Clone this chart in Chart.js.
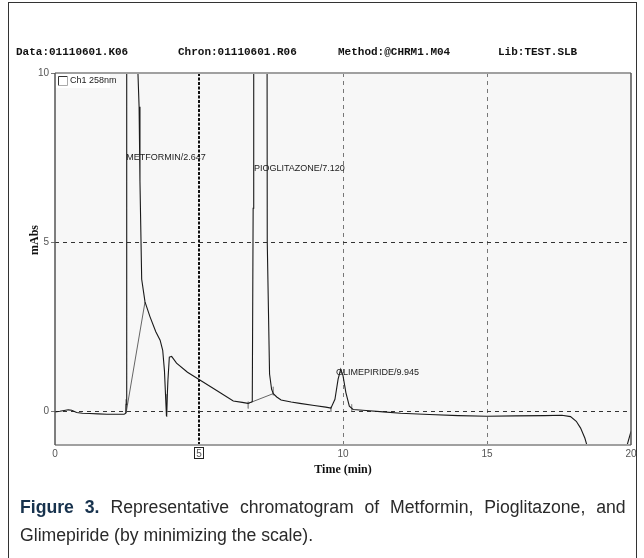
<!DOCTYPE html>
<html><head><meta charset="utf-8">
<script src="https://cdn.jsdelivr.net/npm/chart.js@4/dist/chart.umd.min.js"></script>
<style>
html,body{margin:0;padding:0;background:#fff;}
#wrap{position:relative;width:644px;height:558px;overflow:hidden;background:#fff;}
#frame{position:absolute;left:8px;top:2px;width:629px;height:600px;border:1.5px solid #333;box-sizing:border-box;}
#c{position:absolute;left:0;top:0;}
.hdr{position:absolute;top:46px;font:bold 11px "Liberation Mono",monospace;color:#111;white-space:pre;}
#cap{position:absolute;left:20px;top:493px;width:618px;transform:scaleX(0.98);transform-origin:0 0;font:18px "Liberation Sans",sans-serif;line-height:28px;color:#2a2a2a;}
#cap .l1{text-align:justify;text-align-last:justify;white-space:nowrap;}
#cap .l2{text-align:left;white-space:nowrap;}
#cap b{color:#17324d;}
</style></head>
<body>
<div id="wrap">
<div id="frame"></div>
<canvas id="c" width="644" height="500" style="width:644px;height:500px"></canvas>
<div class="hdr" style="left:16px">Data:01110601.K06</div>
<div class="hdr" style="left:178px">Chron:01110601.R06</div>
<div class="hdr" style="left:338px">Method:@CHRM1.M04</div>
<div class="hdr" style="left:498px">Lib:TEST.SLB</div>
<div id="cap"><div class="l1"><b>Figure 3.</b> Representative chromatogram of Metformin, Pioglitazone, and</div><div class="l2">Glimepiride (by minimizing the scale).</div></div>
</div>
<script>
// ---- data ----
const timeMin = [0, 0.17, 0.46, 0.58, 0.75, 0.95, 1.2, 1.5, 1.8, 2.1, 2.4, 2.46,
  2.47, 2.49, 2.647, 2.84, 2.88, 2.92, 2.95, 3.01, 3.125, 3.3, 3.5, 3.65, 3.74, 3.8, 3.87, 3.92, 3.97, 4.05, 4.22, 4.6, 5.03, 5.6, 6.19, 6.5, 6.7, 6.85,
  6.88, 6.9, 7.12, 7.33, 7.37, 7.45, 7.52, 7.58, 7.7, 7.85, 8.2, 8.5, 9.0, 9.4, 9.58,
  9.72, 9.83, 9.92, 10.0, 10.1, 10.22, 10.35, 10.8, 11.4, 12, 13, 14, 15, 16, 17, 17.6,
  17.9, 18.1, 18.25, 18.4, 18.5, 18.6, 19.5, 19.85, 20];
const absorb = [-0.02, 0, 0.04, 0.03, -0.04, -0.06, -0.07, -0.08, -0.09, -0.09, -0.09, -0.06,
  0.2, 40, 80, 40, 10, 9, 6.8, 3.9, 3.23, 2.79, 2.35, 2.1, 1.8, 1.2, -0.15, 0.9, 1.6, 1.62, 1.42, 1.15, 0.92, 0.62, 0.3, 0.26, 0.23, 0.28,
  6, 40, 80, 40, 5, 1.1, 0.65, 0.52, 0.42, 0.33, 0.27, 0.23, 0.17, 0.12, 0.09,
  0.35, 0.95, 1.24, 1.05, 0.55, 0.15, 0.05, 0.02, -0.02, -0.06, -0.1, -0.13, -0.15, -0.14, -0.13, -0.12,
  -0.16, -0.3, -0.5, -0.8, -1.1, -1.6, -1.6, -1.05, -0.6];
// integration baselines drawn under peaks (start/end pairs)
const baseT = [2.47, 3.125, null, 6.71, 7.58];
const baseV = [-0.05, 3.23, null, 0.23, 0.52];
// integration event markers
const markT = [2.47, 3.88, 6.71, 7.58, 9.58, 10.3];
const markTop = [0.35, 0.5, 0.28, 0.72, 0.13, 0.2];
const markBot = [-0.05, -0.17, 0.08, 0.47, -0.02, 0.0];
// peak labels
const peakNames = ['METFORMIN/2.647', 'PIOGLITAZONE/7.120', 'GLIMEPIRIDE/9.945'];
const peakLabT = [2.47, 6.91, 9.76];
const peakLabV = [7.5, 7.19, 1.15];
// axes
const xTicks = [0, 5, 10, 15, 20];
const yTicks = [0, 5, 10];
const cursorT = 5;

const trace = timeMin.map((t, i) => ({x: t, y: absorb[i]}));
const basePts = baseT.map((t, i) => t === null ? {x: null, y: null} : {x: t, y: baseV[i]});
const markPts = [];
markT.forEach((t, i) => { markPts.push({x: t, y: markTop[i]}, {x: t, y: markBot[i]}, {x: null, y: null}); });

const overlay = {
  id: 'overlay',
  beforeDraw(chart) {
    const {ctx, chartArea: a} = chart;
    ctx.save();
    ctx.fillStyle = '#f7f7f7';
    ctx.fillRect(a.left, a.top, a.right - a.left, a.bottom - a.top);
    ctx.restore();
  },
  afterDraw(chart) {
    const {ctx, chartArea: a, scales: {x, y}} = chart;
    ctx.save();
    // frame
    ctx.lineWidth = 2;
    ctx.strokeStyle = '#a0a0a0';
    ctx.beginPath(); ctx.moveTo(a.left, a.top); ctx.lineTo(a.right, a.top); ctx.stroke();
    ctx.beginPath(); ctx.moveTo(a.left, a.bottom); ctx.lineTo(a.right, a.bottom); ctx.stroke();
    ctx.strokeStyle = '#555';
    ctx.lineWidth = 1.5;
    ctx.beginPath(); ctx.moveTo(a.left, a.top); ctx.lineTo(a.left, a.bottom); ctx.stroke();
    ctx.beginPath(); ctx.moveTo(a.right, a.top); ctx.lineTo(a.right, a.bottom); ctx.stroke();
    // legend box
    ctx.fillStyle = '#fff';
    ctx.fillRect(a.left + 1, a.top + 1, 54, 14);
    ctx.strokeStyle = '#333'; ctx.lineWidth = 1;
    ctx.beginPath(); ctx.moveTo(a.left + 3.5, a.top + 12.5); ctx.lineTo(a.left + 3.5, a.top + 3.5); ctx.lineTo(a.left + 12.5, a.top + 3.5); ctx.stroke();
    ctx.strokeStyle = '#aaa';
    ctx.beginPath(); ctx.moveTo(a.left + 12.5, a.top + 3.5); ctx.lineTo(a.left + 12.5, a.top + 12.5); ctx.lineTo(a.left + 3.5, a.top + 12.5); ctx.stroke();
    ctx.fillStyle = '#222';
    ctx.font = '9px "Liberation Sans", sans-serif';
    ctx.textBaseline = 'middle'; ctx.textAlign = 'left';
    ctx.fillText('Ch1 258nm', a.left + 15, a.top + 8);
    // peak labels
    peakNames.forEach((n, i) => {
      ctx.fillText(n, x.getPixelForValue(peakLabT[i]), y.getPixelForValue(peakLabV[i]));
    });
    // cursor box on x axis
    const cx = x.getPixelForValue(cursorT);
    ctx.strokeStyle = '#222'; ctx.lineWidth = 1;
    ctx.strokeRect(Math.round(cx) - 4.5, a.bottom + 2.5, 9, 11);
    // axis titles
    ctx.fillStyle = '#111';
    ctx.font = 'bold 12px "Liberation Serif", serif';
    ctx.textAlign = 'center';
    ctx.fillText('Time (min)', (a.left + a.right) / 2, 470);
    ctx.translate(35, 240);
    ctx.rotate(-Math.PI / 2);
    ctx.fillText('mAbs', 0, 0);
    ctx.restore();
  }
};

new Chart(document.getElementById('c'), {
  type: 'line',
  data: {
    datasets: [
      {data: trace, borderColor: '#1a1a1a', borderWidth: 1.1, pointRadius: 0, tension: 0, spanGaps: false},
      {data: basePts, borderColor: '#666', borderWidth: 1, pointRadius: 0, tension: 0, spanGaps: false},
      {data: markPts, borderColor: '#999', borderWidth: 1, pointRadius: 0, tension: 0, spanGaps: false}
    ]
  },
  options: {
    responsive: false,
    animation: false,
    layout: {padding: {left: 0, right: 13, top: 73, bottom: 0}},
    plugins: {legend: {display: false}, tooltip: {enabled: false}},
    scales: {
      x: {
        type: 'linear', min: 0, max: 20,
        afterBuildTicks: s => { s.ticks = xTicks.map(v => ({value: v})); },
        afterFit: s => { s.height = 55; },
        ticks: {font: {family: '"Liberation Sans", sans-serif', size: 10}, color: '#555', padding: 3, maxRotation: 0},
        grid: {
          drawTicks: false,
          color: c => (c.tick && (c.tick.value === 0 || c.tick.value === 20)) ? 'rgba(0,0,0,0)' : (c.tick && c.tick.value === cursorT ? '#111' : '#777'),
          lineWidth: c => (c.tick && c.tick.value === cursorT) ? 2 : 1
        },
        border: {display: false, dash: c => (c.tick && c.tick.value === cursorT) ? [3, 1.5] : [4, 4]}
      },
      y: {
        type: 'linear', min: -1, max: 10,
        afterBuildTicks: s => { s.ticks = yTicks.map(v => ({value: v})); },
        afterFit: s => { s.width = 55; },
        ticks: {font: {family: '"Liberation Sans", sans-serif', size: 10}, color: '#555', padding: 2},
        grid: {
          drawTicks: true, tickLength: 4, tickColor: '#777', tickBorderDash: [],
          color: c => (c.tick && c.tick.value === 10) ? 'rgba(0,0,0,0)' : '#333',
          lineWidth: 1
        },
        border: {display: false, dash: [4, 4]}
      }
    }
  },
  plugins: [overlay]
});
</script>
</body></html>
